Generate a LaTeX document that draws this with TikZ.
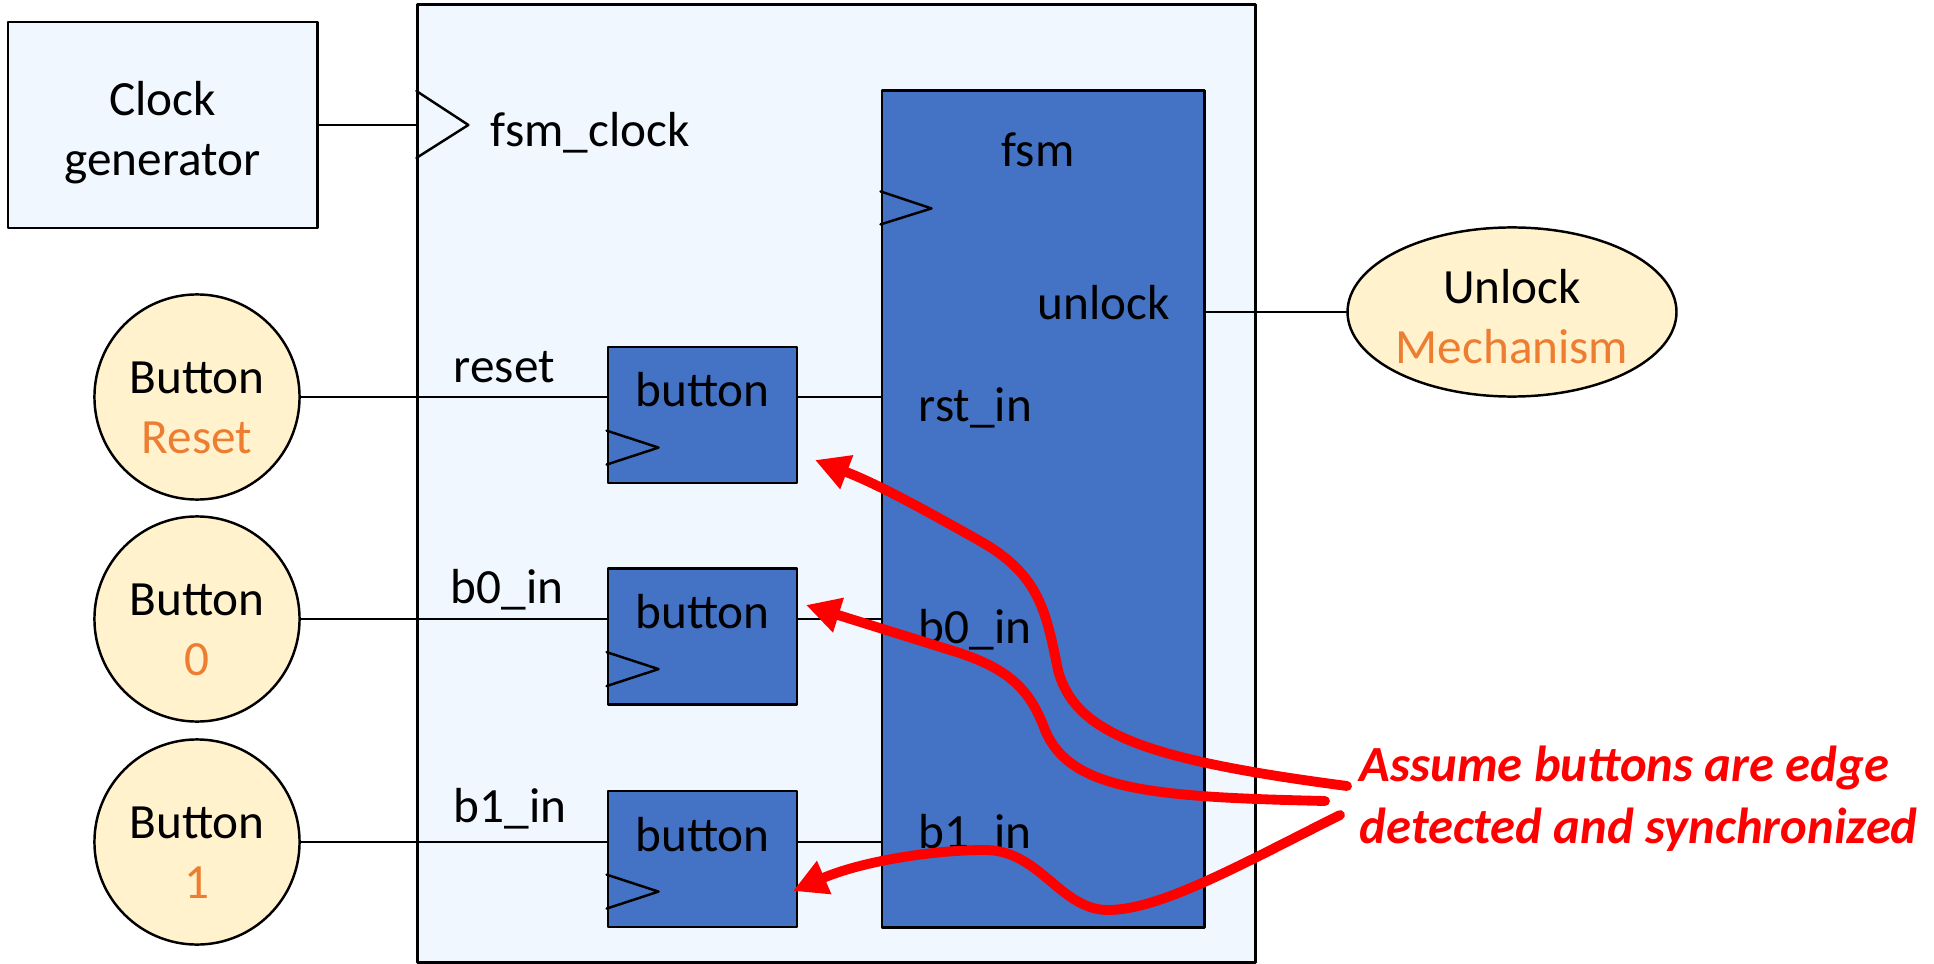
\documentclass[tikz,border=0pt]{standalone}
\usepackage{fontspec}
\setmainfont{Carlito}
\usepackage{tikz}
\usetikzlibrary{arrows.meta,shapes.geometric}
\definecolor{shellfill}{HTML}{F0F7FE}
\definecolor{modblue}{HTML}{4472C4}
\definecolor{padfill}{HTML}{FFF2CC}
\definecolor{padorange}{HTML}{ED7D31}
\definecolor{notered}{HTML}{FF0000}

\begin{document}
\begin{tikzpicture}[line cap=round,line join=round,x=0.01cm,y=-0.01cm,
  font=\fontsize{14}{17}\selectfont,
  wire/.style={line width=0.7pt},
  shell/.style={draw,line width=0.8pt,fill=shellfill,inner sep=0pt},
  mod/.style={draw,line width=0.8pt,fill=modblue,inner sep=0pt},
  deb/.style={mod,minimum width=1.89cm,minimum height=1.36cm,text height=0.34cm,text depth=0.5cm},
  pad/.style={circle,draw,line width=0.7pt,fill=padfill,inner sep=0pt,minimum size=2.05cm,align=center,text height=1.12cm,text depth=0cm},
  sig/.style={inner sep=0pt,anchor=base west},
  note/.style={draw=notered,line width=2.8pt,line cap=round,-{Triangle[length=0.34cm,width=0.34cm]}}]
\useasboundingbox (0,0) rectangle (1934,964);
\node[shell,minimum width=3.09cm,minimum height=2.06cm,align=center,text height=1.1cm,text depth=0.1cm] (clkgen) at (162.5,125) {Clock\\generator};
\node[shell,minimum width=8.37cm,minimum height=9.57cm] (top) at (836.5,483.5) {};
\node[mod,minimum width=3.22cm,minimum height=8.36cm] (fsm) at (1043,509) {};
\node[deb] (dR) at (702.5,415) {button};
\node[deb] (d0) at (702.5,636.5) {button};
\node[deb] (d1) at (702.5,859) {button};
\node[pad] (pR) at (197,397) {Button\\\textcolor{padorange}{Reset}};
\node[pad] (p0) at (197,619) {Button\\\textcolor{padorange}{0}};
\node[pad] (p1) at (197,842) {Button\\\textcolor{padorange}{1}};
\node[pad,ellipse,minimum width=3.11cm,minimum height=1.69cm,text height=1.02cm] (lock) at (1512,312) {Unlock\\\textcolor{padorange}{Mechanism}};
\coordinate (ck) at (clkgen.east -| top.west);
\draw[wire] (clkgen.east) -- (ck);
\draw[wire] ([yshift=0.34cm]ck) -- ++(52,34) -- ++(-52,33);
\draw[wire] (pR.east) -- (pR.east -| dR.west);
\draw[wire] (pR.east -| dR.east) -- (pR.east -| fsm.west);
\draw[wire] (p0.east) -- (p0.east -| d0.west);
\draw[wire] (p0.east -| d0.east) -- (p0.east -| fsm.west);
\draw[wire] (p1.east) -- (p1.east -| d1.west);
\draw[wire] (p1.east -| d1.east) -- (p1.east -| fsm.west);
\draw[wire] (lock.west -| fsm.east) -- (lock.west);
\draw[wire] ([yshift=-0.85cm]dR.north west) -- ++(52,17) -- ++(-52,17);
\draw[wire] ([yshift=-0.85cm]d0.north west) -- ++(52,17) -- ++(-52,17);
\draw[wire] ([yshift=-0.85cm]d1.north west) -- ++(52,17) -- ++(-52,17);
\draw[wire] ([yshift=-1.02cm]fsm.north west) -- ++(51,17) -- ++(-51,16);
\node[sig] (clkname) at (490,147) {fsm\_clock};
\node[sig] (rstname) at (453,383) {reset};
\node[sig] (b0name) at (450,603) {b0\_in};
\node[sig] (b1name) at (453,822) {b1\_in};
\node[inner sep=0pt,anchor=base] (fsmname) at (1038,167) {fsm};
\node[sig] (unl) at (1037,320) {unlock};
\node[sig] (rstin) at (918,422) {rst\_in};
\node[sig] (b0in) at (918,643) {b0\_in};
\node[sig] (b1in) at (918,848) {b1\_in};
\node[sig,align=left,text=notered,font=\fontsize{14.4}{17.4}\selectfont\bfseries\itshape] (note) at (1359,843) {Assume buttons are edge\\detected and synchronized};
\coordinate (n1) at (1347,786);
\coordinate (n2) at (1325,801);
\coordinate (n3) at (1340,815);
\coordinate (t1) at (815,460);
\coordinate (t2) at (806,605);
\coordinate (t3) at (793,891);
\draw[note] (n1) .. controls (1150,760) and (1075,735) .. (1058,670) .. controls (1046,612) and (1040,575) .. (980,541) .. controls (930,513) and (880,485) .. (t1);
\draw[note] (n2) .. controls (1150,797) and (1070,790) .. (1045,730) .. controls (1030,690) and (1010,668) .. (950,650) -- (t2);
\draw[note] (n3) .. controls (1240,865) and (1160,910) .. (1108,910) .. controls (1060,910) and (1040,850) .. (985,850) .. controls (930,850) and (860,862) .. (t3);
\end{tikzpicture}
\end{document}
